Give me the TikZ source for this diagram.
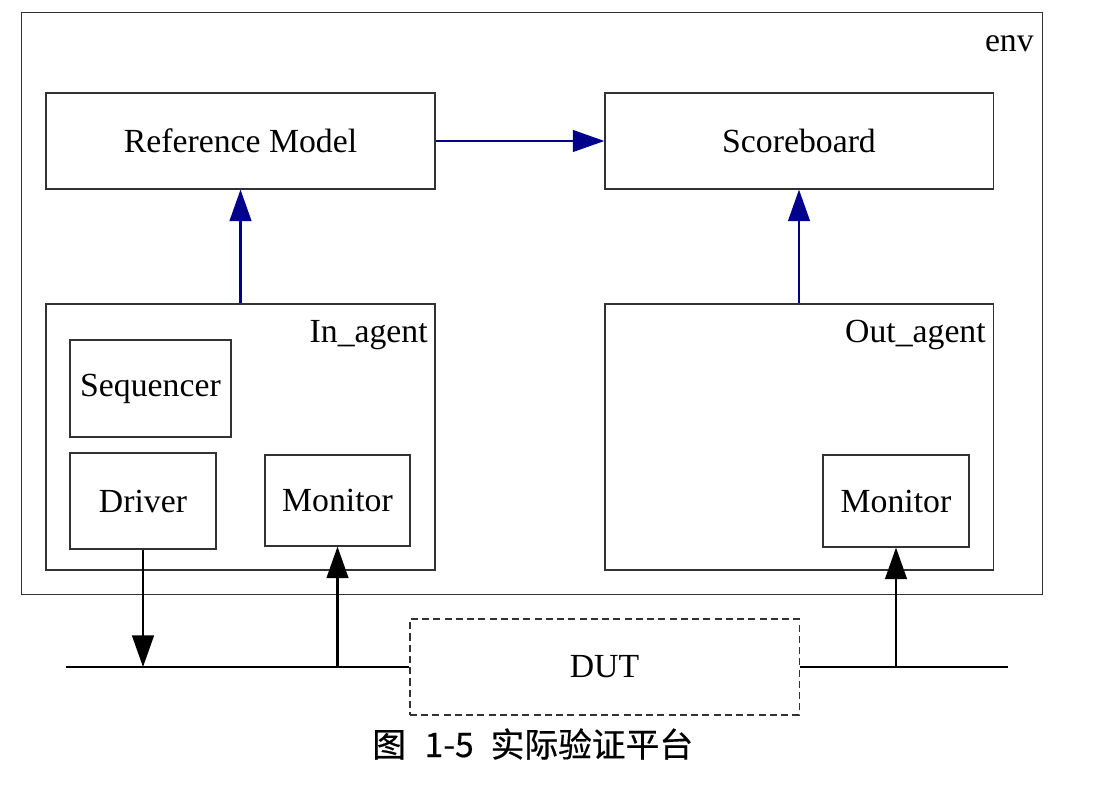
\documentclass[tikz,border=0pt]{standalone}
\usepackage{fontspec}
\setmainfont{Liberation Serif}
\newfontfamily\cjk[FakeBold=0.5]{Noto Sans CJK SC}
\usetikzlibrary{arrows.meta}
\definecolor{arrownavy}{RGB}{0,0,140}
\definecolor{boxline}{RGB}{50,50,50}
\tikzset{
  blk/.style={draw=boxline, line width=0.8pt, inner sep=0pt, font=\fontsize{24}{28}\selectfont},
  lbl/.style={inner sep=0pt, anchor=base east, font=\fontsize{24}{28}\selectfont},
  navyarrow/.style={draw=arrownavy, line width=1.5pt, -{Triangle[width=15.5pt,length=22.5pt]}},
  blackarrow/.style={draw=black, line width=1.5pt, -{Triangle[width=15.5pt,length=22.5pt]}},
  bus/.style={draw=black, line width=1.5pt}
}
\begin{document}
\begin{tikzpicture}[x=0.025cm,y=-0.025cm]
\useasboundingbox (0,0) rectangle (1102,793);
% env
\node[blk, minimum width=25.5cm, minimum height=14.525cm] (env) at (532,303.5) {};
\node[lbl] (envl) at (1034,52) {env};
% top boxes
\node[blk, minimum width=9.725cm, minimum height=2.4cm] (rm) at (240.5,141) {Reference Model};
\node[blk, minimum width=9.7cm, minimum height=2.4cm] (sb) at (799,141) {Scoreboard};
% agents
\node[blk, minimum width=9.725cm, minimum height=6.65cm] (ina) at (240.5,437) {};
\node[lbl] (inal) at (428,342) {In\_agent};
\node[blk, minimum width=9.7cm, minimum height=6.65cm] (outa) at (799,437) {};
\node[lbl] (outal) at (986,342) {Out\_agent};
% inner boxes
\node[blk, minimum width=4.025cm, minimum height=2.425cm] (seq) at (150.5,388.5) {Sequencer};
\node[blk, minimum width=3.65cm, minimum height=2.4cm] (drv) at (143,501) {Driver};
\node[blk, minimum width=3.625cm, minimum height=2.275cm] (mon1) at (337.5,500.5) {Monitor};
\node[blk, minimum width=3.65cm, minimum height=2.3cm] (mon2) at (896,501) {Monitor};
% DUT
\node[blk, dashed, dash pattern=on 5pt off 3pt, minimum width=9.725cm, minimum height=2.4cm] (dut) at (604.5,667) {DUT};
% bus
\coordinate (busL) at (66,667);
\coordinate (busR) at (1008,667);
\draw[bus] (busL) -- (dut.west);
\draw[bus] (dut.east) -- (busR);
% arrows
\draw[navyarrow] (rm.east) -- (sb.west);
\draw[navyarrow] (ina.north) -- (rm.south);
\draw[navyarrow] (outa.north) -- (sb.south);
\draw[blackarrow] (drv.south) -- (drv.south |- busL);
\draw[blackarrow] (mon1.south |- busL) -- (mon1.south);
\draw[blackarrow] (mon2.south |- busL) -- (mon2.south);
% caption
\node[inner sep=0pt, anchor=base west, font=\cjk\fontsize{24}{28}\selectfont] (cap) at (372,757) {图\hspace{0.55em}1-5\hspace{0.5em}实际验证平台};
\end{tikzpicture}
\end{document}
